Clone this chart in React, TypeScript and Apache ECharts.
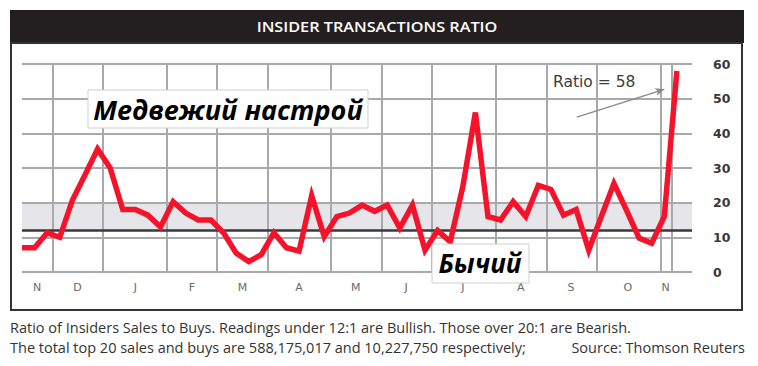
import React, { useEffect, useRef } from "react";
import * as echarts from "echarts";

// Weekly insider sales/buys ratio, Nov .. Nov
const ratioValues = [
  7, 7, 11.3, 10, 20.7, 28, 35.5, 30, 18, 18, 16.4, 13, 20.3, 17, 15, 15, 11.3,
  5.5, 3, 5, 11.3, 7, 6, 22, 10.2, 16, 17, 19.3, 17.5, 19.3, 12.7, 19.3, 6.3,
  12, 8.7, 24.6, 46, 16, 15, 20.3, 16, 25, 23.8, 16.4, 18, 6.3, 16, 25.5, 17.8,
  9.8, 8.3, 16, 58,
];
// month boundaries in week-index units (vertical grid lines)
const monthBoundaries = [2.45, 6.4, 11.5, 15.5, 19.5, 24.5, 28.6, 32.5, 37.6, 41.7, 45.6, 50.7, 51.6];
// month labels and their centre positions (week-index units)
const monthLabels = ["N", "D", "J", "F", "M", "A", "M", "J", "J", "A", "S", "O", "N"];
const monthLabelPos = [1.2, 4.4, 9, 13.5, 17.5, 22, 26.5, 30.5, 35, 39.6, 43.6, 48.1, 51.1];
const yTicks = [0, 10, 20, 30, 40, 50, 60];
const bullishLevel = 12;
const bearishLevel = 20;
const lastRatio = 58;

const titleText = "INSIDER TRANSACTIONS RATIO";
const bearText = "Медвежий настрой";
const bullText = "Бычий";
const note1 = "Ratio of Insiders Sales to Buys. Readings under 12:1 are Bullish. Those over 20:1 are Bearish.";
const note2 = "The total top 20 sales and buys are 588,175,017 and 10,227,750 respectively;";
const sourceText = "Source: Thomson Reuters";

export default function App() {
  const ref = useRef<HTMLDivElement>(null);
  useEffect(() => {
    document.body.style.margin = "0";
    if (!ref.current) return;
    const chart = echarts.init(ref.current, null, { renderer: "svg" });
    const gridColor = "#a9a9a9";
    const noteFont = '14.5px "Open Sans"';
    const option: any = {
      animation: false,
      backgroundColor: "#ffffff",
      grid: { left: 22, right: 66, top: 64, bottom: 94 },
      xAxis: {
        type: "value",
        min: 0,
        max: 53.2,
        axisLine: { show: false },
        axisTick: { show: false },
        splitLine: { show: false },
        axisLabel: {
          customValues: monthLabelPos,
          margin: 10,
          color: "#6a6a6a",
          fontFamily: "DejaVu Sans",
          fontSize: 11,
          formatter: (v: number) => {
            let best = 0;
            monthLabelPos.forEach((p, i) => {
              if (Math.abs(p - v) < Math.abs(monthLabelPos[best] - v)) best = i;
            });
            return monthLabels[best];
          },
        },
      },
      yAxis: {
        type: "value",
        position: "right",
        min: yTicks[0],
        max: yTicks[yTicks.length - 1],
        interval: 10,
        z: 3,
        axisLine: { show: false },
        axisTick: { show: false },
        splitLine: { show: true, lineStyle: { color: gridColor, width: 2 } },
        axisLabel: {
          margin: 21,
          color: "#383838",
          fontFamily: "DejaVu Sans",
          fontWeight: "bold",
          fontSize: 12.5,
        },
      },
      series: [
        {
          type: "line",
          z: 1,
          data: [],
          silent: true,
          markArea: {
            silent: true,
            itemStyle: { color: "#e6e6ea" },
            data: [[{ yAxis: bullishLevel }, { yAxis: bearishLevel }]],
          },
        },
        {
          type: "line",
          z: 4,
          data: [],
          silent: true,
          markLine: {
            silent: true,
            symbol: "none",
            label: { show: false },
            lineStyle: { color: gridColor, width: 2, type: "solid" },
            data: monthBoundaries.map((b) => ({ xAxis: b })),
          },
        },
        {
          type: "line",
          z: 5,
          data: [],
          silent: true,
          markLine: {
            silent: true,
            symbol: "none",
            label: { show: false },
            lineStyle: { color: "#3a3a3a", width: 2.5, type: "solid" },
            data: [{ yAxis: bullishLevel }],
          },
        },
        {
          type: "line",
          z: 6,
          data: [],
          silent: true,
          markLine: {
            silent: true,
            symbol: ["none", "arrow"],
            symbolSize: [6, 9],
            label: { show: false },
            lineStyle: { color: "#8a8a8a", width: 1.3, type: "solid" },
            data: [[{ coord: [44.05, 44.7] }, { coord: [51.0, 52.7] }]],
          },
        },
        {
          type: "line",
          z: 8,
          data: ratioValues.map((v, i) => [i, v]),
          symbol: "none",
          lineStyle: { color: "#f5132b", width: 5.5, join: "miter", cap: "butt" },
          itemStyle: { color: "#f5132b" },
        },
      ],
      graphic: [
        { type: "rect", z: 100, shape: { x: 10, y: 10, width: 734, height: 33 }, style: { fill: "#231f20" } },
        {
          type: "text", z: 101, x: 377, y: 27, scaleX: 1.12,
          style: { text: titleText, x: 0, y: 0, textAlign: "center", textVerticalAlign: "middle", fill: "#ffffff", font: '600 14.5px "Open Sans"' },
        },
        { type: "rect", z: 100, shape: { x: 11, y: 43, width: 731, height: 267 }, style: { fill: "none", stroke: "#333333", lineWidth: 2 } },
        { type: "rect", z: 100, shape: { x: 88, y: 90, width: 280, height: 38 }, style: { fill: "#ffffff", stroke: "#cfcfcf", lineWidth: 1 } },
        {
          type: "text", z: 101,
          style: { text: bearText, x: 228, y: 109, textAlign: "center", textVerticalAlign: "middle", fill: "#000000", font: 'italic bold 27px "Open Sans"' },
        },
        { type: "rect", z: 100, shape: { x: 432, y: 244, width: 97, height: 39 }, style: { fill: "#ffffff", stroke: "#cfcfcf", lineWidth: 1 } },
        {
          type: "text", z: 101,
          style: { text: bullText, x: 480, y: 263, textAlign: "center", textVerticalAlign: "middle", fill: "#000000", font: 'italic bold 26px "Open Sans"' },
        },
        {
          type: "text", z: 101,
          style: { text: "Ratio = " + lastRatio, x: 553, y: 82, textAlign: "left", textVerticalAlign: "middle", fill: "#3c3c3c", font: '15.5px "DejaVu Sans"' },
        },
        {
          type: "text", z: 101,
          style: { text: note1, x: 10, y: 327, textAlign: "left", textVerticalAlign: "middle", fill: "#333333", font: noteFont },
        },
        {
          type: "text", z: 101,
          style: { text: note2, x: 10, y: 347, textAlign: "left", textVerticalAlign: "middle", fill: "#333333", font: noteFont },
        },
        {
          type: "text", z: 101,
          style: { text: sourceText, x: 745, y: 347, textAlign: "right", textVerticalAlign: "middle", fill: "#333333", font: noteFont },
        },
      ],
    };
    chart.setOption(option);
    return () => chart.dispose();
  }, []);
  return <div ref={ref} style={{ width: 758, height: 366 }} />;
}
